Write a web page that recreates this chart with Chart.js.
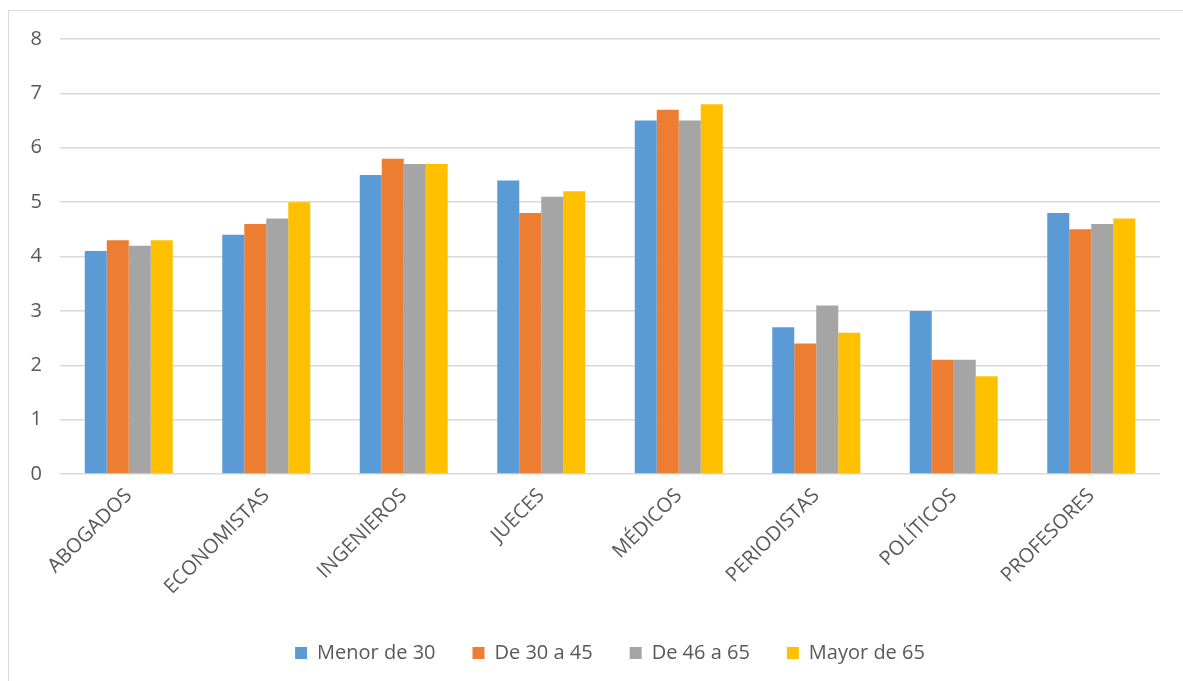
<!DOCTYPE html>
<html>
<head>
<meta charset="utf-8">
<script src="https://cdn.jsdelivr.net/npm/chart.js@4"></script>
<style>
html,body{margin:0;padding:0;background:#fff;overflow:hidden;}
#wrap{position:absolute;left:0;top:0;width:1183px;height:681px;overflow:hidden;}
#frame{position:absolute;left:8px;top:10px;width:1200px;height:700px;border-left:1px solid #d9d9d9;border-top:1px solid #d9d9d9;box-sizing:border-box;}
canvas{position:absolute;left:0;top:0;}
</style>
</head>
<body>
<div id="wrap"><div id="frame"></div><canvas id="c" width="1183" height="681"></canvas></div>
<script>
const categories = ["ABOGADOS","ECONOMISTAS","INGENIEROS","JUECES","MÉDICOS","PERIODISTAS","POLÍTICOS","PROFESORES"];
const seriesNames = ["Menor de 30","De 30 a 45","De 46 a 65","Mayor de 65"];
const menor30 = [4.1, 4.4, 5.5, 5.4, 6.5, 2.7, 3.0, 4.8];
const de30a45 = [4.3, 4.6, 5.8, 4.8, 6.7, 2.4, 2.1, 4.5];
const de46a65 = [4.2, 4.7, 5.7, 5.1, 6.5, 3.1, 2.1, 4.6];
const mayor65 = [4.3, 5.0, 5.7, 5.2, 6.8, 2.6, 1.8, 4.7];
const yTicks = [0,1,2,3,4,5,6,7,8];
const colors = ["#5b9bd5","#ed7d31","#a5a5a5","#ffc000"];
const seriesData = [menor30, de30a45, de46a65, mayor65];

const FONT = "'Open Sans', 'Noto Sans', sans-serif";
const ctx = document.getElementById('c');
new Chart(ctx, {
  type: 'bar',
  data: {
    labels: categories,
    datasets: seriesNames.map((n,i)=>({
      label: n,
      data: seriesData[i],
      backgroundColor: colors[i],
      borderWidth: 0,
      categoryPercentage: 0.64,
      barPercentage: 1.0
    }))
  },
  options: {
    responsive: false,
    animation: false,
    layout: { padding: { left: 0, right: 23, top: 39, bottom: 8 } },
    plugins: {
      legend: {
        position: 'bottom',
        fullSize: false,
        labels: {
          color: '#595959',
          font: { family: FONT, size: 20 },
          boxWidth: 12, boxHeight: 12,
          padding: 37
        }
      },
      tooltip: { enabled: false }
    },
    scales: {
      x: {
        afterFit: (s)=>{ s.height = 132; },
        grid: { display: false, drawTicks: false },
        border: { display: false },
        ticks: {
          color: '#595959',
          font: { family: FONT, size: 20 },
          maxRotation: 45, minRotation: 45,
          padding: 10
        }
      },
      y: {
        min: 0, max: 8,
        afterBuildTicks: (s)=>{ s.ticks = yTicks.map(v=>({value:v})); },
        afterFit: (s)=>{ s.width = 60; },
        grid: { color: '#d9d9d9', lineWidth: 1.5, drawTicks: false },
        border: { display: false },
        ticks: {
          color: '#595959',
          font: { family: FONT, size: 20 },
          padding: 18
        }
      }
    }
  }
});
</script>
</body>
</html>
